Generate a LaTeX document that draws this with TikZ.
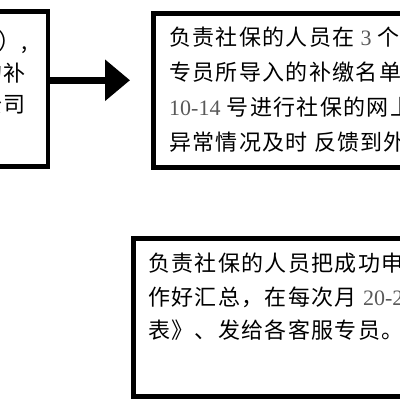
\documentclass[tikz,border=0pt]{standalone}
\usepackage{fontspec}
\setmainfont{Noto Sans CJK SC}[LetterSpace=6]
\newfontfamily\numfont{Liberation Serif}
\usetikzlibrary{arrows.meta,positioning}

\begin{document}
\begin{tikzpicture}[x=1pt, y=-1pt,
  box/.style={draw=black, line width=4.5pt, rectangle, inner sep=0pt},
  txt/.style={anchor=west, inner sep=0pt, font=\fontsize{22}{22}\selectfont},
  flow/.style={line width=7pt, -{Triangle[length=25pt, width=40pt]}}]

\colorlet{cN}{black!65}
\newcommand{\nm}[1]{{\numfont\color{cN}#1}}

\useasboundingbox (0,0) rectangle (400,400);
\clip (0,0) rectangle (400,400);

%% left box, cut by the frame
\node[box, minimum width=250pt, minimum height=155pt, anchor=north east] (lbox) at (50,9) {};
\node[txt, anchor=east] (l1) at (28,42) {）,};
\node[txt, anchor=east] (l2) at (26,73) {的补};
\node[txt, anchor=east] (l3) at (26,104) {公司};

%% right box
\node[box, minimum width=420pt, minimum height=154pt, anchor=north west] (rbox) at (151,11) {};
\node[txt] (r1) at (169,37) {负责社保的人员在 \nm{3} 个};
\node[txt] (r2) at (169,72) {专员所导入的补缴名单};
\node[txt] (r3) at (169,107) {\nm{10-14} 号进行社保的网上};
\node[txt] (r4) at (169,142) {异常情况及时 反馈到外};

%% arrow between the two top boxes
\draw[flow] ([yshift=8.5pt]lbox.east) -- ([xshift=-21pt, yshift=10pt]rbox.west);

%% bottom box
\node[box, minimum width=420pt, minimum height=158pt, anchor=north west] (bbox) at (131,236) {};
\node[txt] (b1) at (148,263) {负责社保的人员把成功申};
\node[txt] (b2) at (148,297) {作好汇总，在每次月 \nm{20-25}};
\node[txt] (b3) at (148,330) {表》、发给各客服专员。};

\end{tikzpicture}
\end{document}
